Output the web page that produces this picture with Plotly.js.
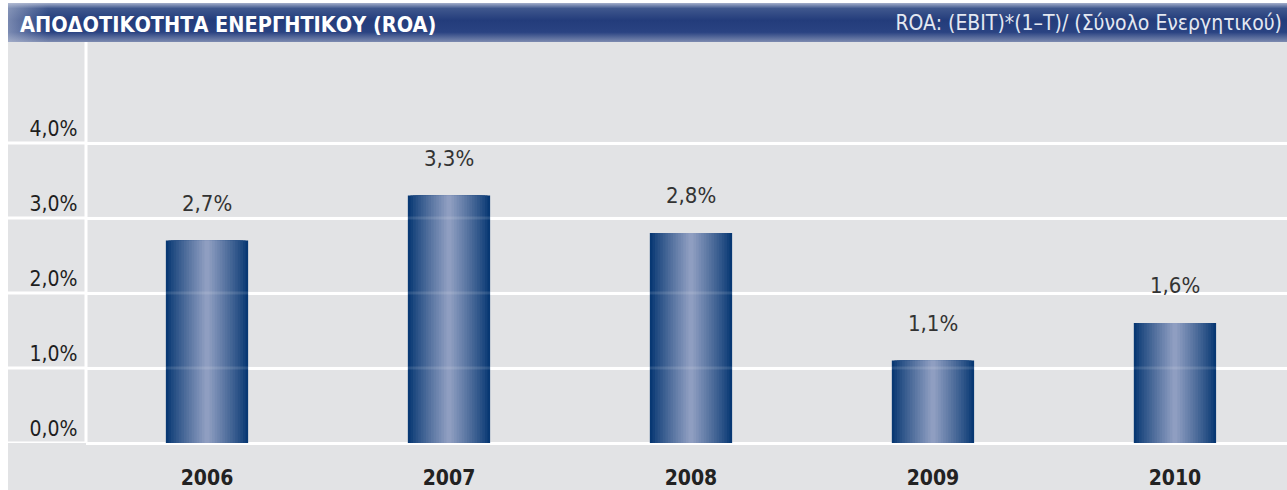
<!DOCTYPE html>
<html>
<head>
<meta charset="utf-8">
<script src="https://cdn.plot.ly/plotly-3.0.1.min.js"></script>
<style>
  body { margin: 0; background: #ffffff; width: 1287px; height: 490px; overflow: hidden; position: relative; }
  #header {
    position: absolute; left: 8px; top: 3px; width: 1279px; height: 39px;
    background:
      linear-gradient(to right, rgba(190,198,218,0.55) 0px, rgba(190,198,218,0) 40px),
      linear-gradient(to bottom, #a3aecb 0%, #3f578d 14%, #233c7b 45%, #2a4382 75%, #7d8bb0 100%);
    font-family: "DejaVu Sans Condensed", "Liberation Sans Narrow", sans-serif;
    color: #ffffff;
  }
  #title { position: absolute; left: 12px; top: 9px; font-size: 21.5px; font-weight: bold; white-space: nowrap; }
  #formula { position: absolute; right: 5px; top: 8px; font-size: 21px; color: #e4e8f1; white-space: nowrap; }
  #plot { position: absolute; left: 8px; top: 42px; width: 1279px; height: 448px; }
</style>
</head>
<body>
<div id="header">
  <div id="title">ΑΠΟΔΟΤΙΚΟΤΗΤΑ ΕΝΕΡΓΗΤΙΚΟΥ (ROA)</div>
  <div id="formula">ROA: (EBIT)*(1–T)/ (Σύνολο Ενεργητικού)</div>
</div>
<div id="plot"></div>
<script>
const years = ['2006', '2007', '2008', '2009', '2010'];
const roa = [2.7, 3.3, 2.8, 1.1, 1.6];
const yTicks = [0, 1, 2, 3, 4];

const narrow = '"DejaVu Sans Condensed", "Liberation Sans Narrow", sans-serif';

// bars get a horizontal shine: stack narrower, lighter bars on top of each other
function mix(a, b, t) {
    const r = Math.round(a[0] + (b[0] - a[0]) * t);
    const g = Math.round(a[1] + (b[1] - a[1]) * t);
    const bl = Math.round(a[2] + (b[2] - a[2]) * t);
    return 'rgb(' + r + ',' + g + ',' + bl + ')';
}
const dark = [8, 56, 115];
const light = [143, 158, 193];
const steps = 16;
const barWidth = 0.34;

const traces = [];
for (let i = 0; i < steps; i++) {
    const t = i / (steps - 1);
    traces.push({
        type: 'bar',
        x: years,
        y: roa,
        width: barWidth * (1 - i / steps),
        marker: { color: mix(dark, light, Math.pow(t, 0.9)), line: { width: 0 } },
        hoverinfo: i === 0 ? 'x+y' : 'skip',
        showlegend: false
    });
}

const fmt = v => v.toFixed(1).replace('.', ',') + '%';

// value labels above the bars (x given as category index)
const annotations = years.map((yr, i) => ({
    x: i, y: roa[i], xref: 'x', yref: 'y',
    text: fmt(roa[i]), showarrow: false,
    yanchor: 'bottom', yshift: 23,
    font: { family: narrow, size: 22, color: '#333333' }
}));

const shapes = [];
// gridlines continue into the label area on the left
yTicks.forEach(v => {
    shapes.push({
        type: 'line', xref: 'paper', yref: 'y',
        x0: -78 / 1201, x1: 0, y0: v, y1: v,
        line: { color: '#ffffff', width: 3 }, layer: 'below'
    });
    // faint trace of the gridline over the bars
    if (v > 0) {
        shapes.push({
            type: 'line', xref: 'paper', yref: 'y',
            x0: 0, x1: 1, y0: v, y1: v,
            line: { color: 'rgba(255,255,255,0.12)', width: 3 }, layer: 'above'
        });
    }
});
shapes.push({
    type: 'line', xref: 'paper', yref: 'paper',
    x0: 0, x1: 0, y0: 0, y1: 1,
    line: { color: '#ffffff', width: 3 }, layer: 'below'
});

const layout = {
    width: 1279,
    height: 448,
    margin: { l: 78, r: 0, t: 0, b: 47 },
    paper_bgcolor: '#e2e3e5',
    plot_bgcolor: '#e2e3e5',
    barmode: 'overlay',
    showlegend: false,
    xaxis: {
        type: 'category',
        range: [-0.5, 4.463],
        showgrid: false,
        zeroline: false,
        showline: false,
        ticks: 'outside',
        ticklen: 16,
        tickcolor: 'rgba(0,0,0,0)',
        tickfont: { family: narrow, size: 21, color: '#222222', weight: 'bold' },
        fixedrange: true
    },
    yaxis: {
        range: [0, 401 / 75],
        tickmode: 'array',
        tickvals: yTicks,
        // trailing thin spaces keep the labels a bit off the axis
        ticktext: yTicks.map(v => fmt(v) + '\u2009\u2009'),
        ticklabelposition: 'outside top',
        ticks: '',
        showgrid: true,
        gridcolor: '#ffffff',
        gridwidth: 3,
        zeroline: true,
        zerolinecolor: '#ffffff',
        zerolinewidth: 3,
        showline: false,
        tickfont: { family: narrow, size: 21, color: '#1e1e1e' },
        fixedrange: true
    },
    annotations: annotations,
    shapes: shapes
};

Plotly.newPlot('plot', traces, layout, { displayModeBar: false, staticPlot: true });
</script>
</body>
</html>
